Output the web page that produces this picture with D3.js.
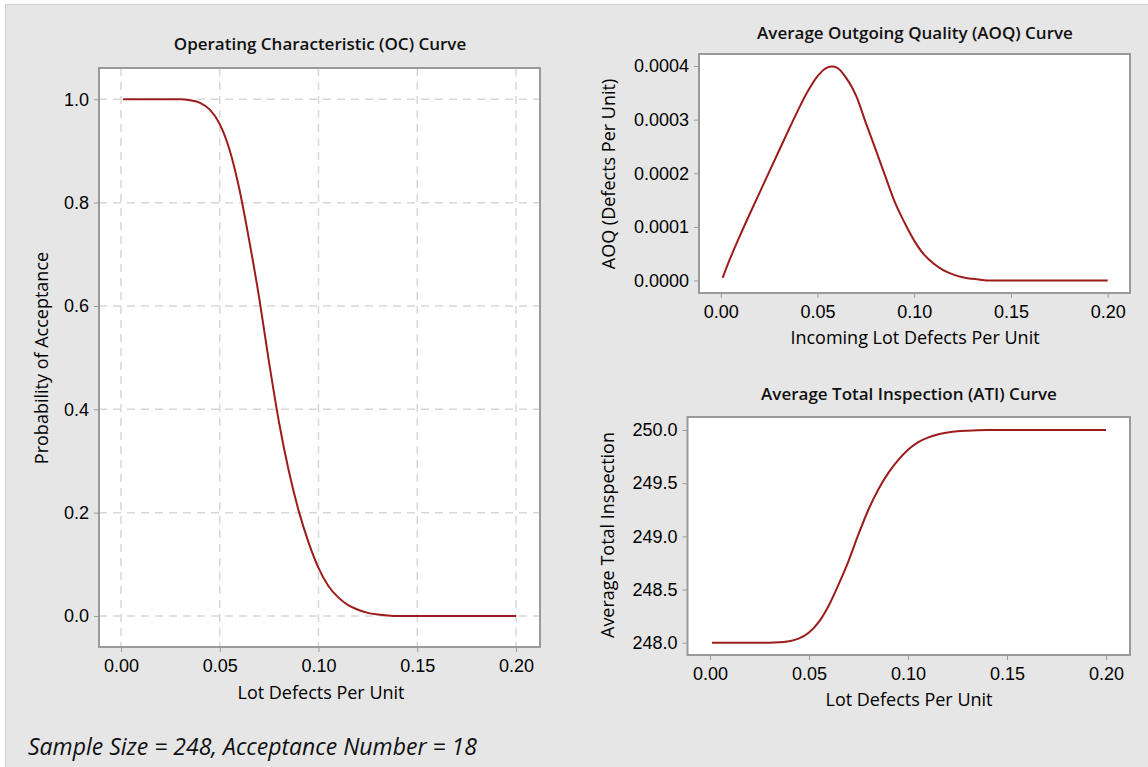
<!DOCTYPE html>
<html>
<head>
<meta charset="utf-8">
<script src="https://cdn.jsdelivr.net/npm/d3@7"></script>
<style>
  body { margin: 0; background: #fff; }
  svg { display: block; font-family: "Open Sans", "Noto Sans", sans-serif; }
  .tick text { font-size: 18px; fill: #000; }
  .tick line { stroke: #9a9a9a; }
  .title { font-size: 17px; font-weight: 600; fill: #111; }
  .label { font-size: 18px; fill: #000; }
</style>
</head>
<body>
<div id="chart"></div>
<script>
// values (n = 248, c = 18)

var defects = [0.001, 0.005, 0.010, 0.015, 0.020, 0.025, 0.030, 0.035, 0.040, 0.045,
  0.050, 0.055, 0.060, 0.065, 0.070, 0.075, 0.080, 0.085, 0.090, 0.095,
  0.100, 0.105, 0.110, 0.115, 0.120, 0.125, 0.130, 0.135, 0.140, 0.150,
  0.160, 0.170, 0.180, 0.190, 0.200];

var probAccept = [1, 1, 1, 1, 1, 1, 1, 0.998, 0.993, 0.980,
  0.952, 0.902, 0.825, 0.725, 0.615, 0.490, 0.375, 0.280, 0.203, 0.142,
  0.093, 0.058, 0.036, 0.021, 0.012, 0.006, 0.003, 0.001, 0, 0,
  0, 0, 0, 0, 0];

var aoq = [0.000005, 0.000042, 0.000084, 0.000124, 0.000163, 0.000202, 0.000241, 0.000280, 0.0003178, 0.0003528,
  0.0003808, 0.000397, 0.000397, 0.000377, 0.0003444, 0.000294, 0.000245, 0.000195, 0.0001462, 0.0001079,
  0.0000744, 0.0000487, 0.0000317, 0.0000193, 0.0000115, 0.000006, 0.0000031, 0.0000011, 0, 0,
  0, 0, 0, 0, 0];

var ati = [248, 248, 248, 248, 248, 248, 248, 248.004, 248.014, 248.040,
  248.096, 248.196, 248.350, 248.550, 248.770, 249.020, 249.250, 249.440, 249.594, 249.716,
  249.814, 249.884, 249.928, 249.958, 249.976, 249.988, 249.994, 249.998, 250, 250,
  250, 250, 250, 250, 250];

var xTicks = [0, 0.05, 0.10, 0.15, 0.20];
var ocTicks = [0, 0.2, 0.4, 0.6, 0.8, 1.0];
var aoqTicks = [0, 0.0001, 0.0002, 0.0003, 0.0004];
var atiTicks = [248.0, 248.5, 249.0, 249.5, 250.0];

var footnote = "Sample Size = 248, Acceptance Number = 18";

var W = 1148, H = 767;
var lineColor = "#9c1c1c";

var svg = d3.select("#chart").append("svg")
  .attr("width", W).attr("height", H);

svg.append("rect")
  .attr("x", 5.5).attr("y", 4.5)
  .attr("width", W).attr("height", H)
  .attr("fill", "#e6e6e6")
  .attr("stroke", "#cfcfcf");

// one panel: frame box, scales, axes, optional grid, curve
function panel(opt) {
  var x = d3.scaleLinear().domain([0, 0.2]).range(opt.xr);
  var y = d3.scaleLinear().domain(opt.yd).range(opt.yr);
  var f = opt.frame; // [left, top, right, bottom]

  svg.append("rect")
    .attr("x", f[0]).attr("y", f[1])
    .attr("width", f[2] - f[0]).attr("height", f[3] - f[1])
    .attr("fill", "#fff");

  if (opt.grid) {
    svg.append("g").selectAll("line").data(xTicks).enter().append("line")
      .attr("x1", function(d) { return x(d); }).attr("x2", function(d) { return x(d); })
      .attr("y1", f[1]).attr("y2", f[3])
      .attr("stroke", "#d8d8d8").attr("stroke-width", 1.5)
      .attr("stroke-dasharray", "8,6");
    svg.append("g").selectAll("line").data(opt.yt).enter().append("line")
      .attr("y1", function(d) { return y(d); }).attr("y2", function(d) { return y(d); })
      .attr("x1", f[0]).attr("x2", f[2])
      .attr("stroke", "#d8d8d8").attr("stroke-width", 1.5)
      .attr("stroke-dasharray", "8,6");
  }

  var line = d3.line()
    .x(function(d, i) { return x(defects[i]); })
    .y(function(d) { return y(d); })
    .curve(opt.curve || d3.curveMonotoneX);

  svg.append("path")
    .datum(opt.values)
    .attr("d", line)
    .attr("fill", "none")
    .attr("stroke", lineColor)
    .attr("stroke-width", 2);

  svg.append("rect")
    .attr("x", f[0]).attr("y", f[1])
    .attr("width", f[2] - f[0]).attr("height", f[3] - f[1])
    .attr("fill", "none")
    .attr("stroke", "#9a9a9a")
    .attr("stroke-width", 2);

  var xa = svg.append("g")
    .attr("transform", "translate(0," + (f[3] + 1) + ")")
    .call(d3.axisBottom(x).tickValues(xTicks).tickFormat(d3.format(".2f")).tickSize(4).tickPadding(7));
  xa.select(".domain").remove();

  var ya = svg.append("g")
    .attr("transform", "translate(" + (f[0] - 1) + ",0)")
    .call(d3.axisLeft(y).tickValues(opt.yt).tickFormat(d3.format(opt.yf)).tickSize(4).tickPadding(5));
  ya.select(".domain").remove();

  svg.append("text").attr("class", "title")
    .attr("x", opt.titlePos[0]).attr("y", opt.titlePos[1])
    .attr("text-anchor", "middle").attr("dy", "0.35em")
    .text(opt.title);

  svg.append("text").attr("class", "label")
    .attr("x", opt.xlabPos[0]).attr("y", opt.xlabPos[1])
    .attr("text-anchor", "middle").attr("dy", "0.35em")
    .text(opt.xlab);

  svg.append("text").attr("class", "label")
    .attr("transform", "translate(" + opt.ylabPos[0] + "," + opt.ylabPos[1] + ") rotate(-90)")
    .attr("text-anchor", "middle").attr("dy", "0.35em")
    .text(opt.ylab);
}

panel({
  frame: [99, 68, 540, 647],
  xr: [121, 516], yd: [0, 1], yr: [616, 99.3],
  yt: ocTicks, yf: ".1f", grid: true,
  values: probAccept,
  title: "Operating Characteristic (OC) Curve", titlePos: [320, 44],
  xlab: "Lot Defects Per Unit", xlabPos: [321, 693],
  ylab: "Probability of Acceptance", ylabPos: [42, 358]
});

panel({
  frame: [699, 54, 1130, 293],
  xr: [720.7, 1107.7], yd: [0, 0.0004], yr: [280.5, 66],
  yt: aoqTicks, yf: ".4f", grid: false,
  values: aoq, curve: d3.curveCatmullRom,
  title: "Average Outgoing Quality (AOQ) Curve", titlePos: [915, 33],
  xlab: "Incoming Lot Defects Per Unit", xlabPos: [915, 338],
  ylab: "AOQ (Defects Per Unit)", ylabPos: [609, 174]
});

panel({
  frame: [687.5, 417, 1130, 655],
  xr: [710, 1106], yd: [248, 250], yr: [642.7, 430],
  yt: atiTicks, yf: ".1f", grid: false,
  values: ati,
  title: "Average Total Inspection (ATI) Curve", titlePos: [909, 394],
  xlab: "Lot Defects Per Unit", xlabPos: [909, 700],
  ylab: "Average Total Inspection", ylabPos: [608, 535]
});

svg.append("text")
  .attr("x", 28).attr("y", 747).attr("dy", "0.35em")
  .style("font-size", "23px").style("font-style", "italic").style("fill", "#111")
  .text(footnote);
</script>
</body>
</html>
